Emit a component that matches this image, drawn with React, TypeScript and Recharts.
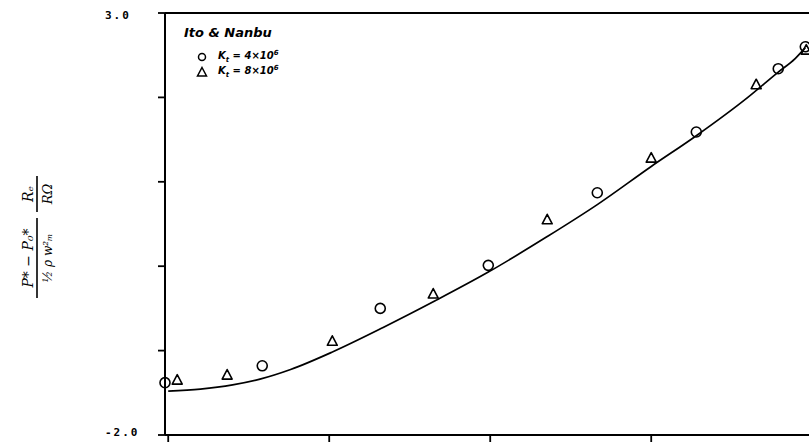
import React from 'react';
import { ComposedChart, Line, Scatter, XAxis, YAxis, ReferenceLine } from 'recharts';

// Solid curve (theory)
const curveX = [0, 0.2, 0.4, 0.57, 0.76, 1.02, 1.335, 1.658, 1.988, 2.354, 2.665, 3.0, 3.28, 3.6, 3.789, 3.894, 3.957];
const curveY = [-1.48, -1.456, -1.406, -1.338, -1.224, -1.016, -0.726, -0.41, -0.07, 0.351, 0.73, 1.182, 1.546, 2.0, 2.3, 2.46, 2.59];

// Ito & Nanbu, K = 4x10^6 (circles)
const circleX = [-0.02, 0.584, 1.317, 1.988, 2.665, 3.28, 3.789, 3.957];
const circleY = [-1.38, -1.18, -0.5, 0.01, 0.87, 1.59, 2.34, 2.6];

// Ito & Nanbu, K = 8x10^6 (triangles)
const triangleX = [0.056, 0.366, 1.019, 1.646, 2.354, 3.0, 3.652, 3.963];
const triangleY = [-1.35, -1.29, -0.89, -0.33, 0.55, 1.28, 2.15, 2.56];

const xTicks = [0, 1, 2, 3];
const yTicks = [-2, -1, 0, 1, 2, 3];
const yTickLabels = ['-2.0', '', '', '', '', '3.0'];

const curveData = curveX.map((x, i) => ({ x, y: curveY[i] }));
const circleData = circleX.map((x, i) => ({ x, y: circleY[i] }));
const triangleData = triangleX.map((x, i) => ({ x, y: triangleY[i] }));

const CircleShape = (props: any) => {
  const { cx, cy } = props;
  return <circle cx={cx} cy={cy} r={5} fill="none" stroke="#000" strokeWidth={1.6} />;
};

const TriangleShape = (props: any) => {
  const { cx, cy } = props;
  const d = `M${cx},${cy - 5.5} L${cx + 5},${cy + 4} L${cx - 5},${cy + 4} Z`;
  return <path d={d} fill="none" stroke="#000" strokeWidth={1.6} strokeLinejoin="round" />;
};

const YTick = (props: any) => {
  const { x, y, payload } = props;
  const idx = yTicks.indexOf(payload.value);
  const label = idx >= 0 ? yTickLabels[idx] : '';
  if (!label) return null;
  return (
    <text
      x={x - 51}
      y={y}
      dy={payload.value === 3 ? 5.5 : 1}
      textAnchor="start"
      fontFamily="DejaVu Sans Mono"
      fontWeight="bold"
      fontSize={11}
      letterSpacing={2}
      fill="#000"
    >
      {label}
    </text>
  );
};

const LegendBox = () => (
  <div
    style={{
      position: 'absolute',
      left: 180,
      top: 18,
      width: 130,
      height: 62,
      fontFamily: 'DejaVu Sans',
      fontStyle: 'italic',
      fontWeight: 'bold',
      color: '#000',
      pointerEvents: 'none',
    }}
  >
    <div style={{ position: 'absolute', left: 4, top: 7, fontSize: 13, lineHeight: '15px', whiteSpace: 'nowrap' }}>
      Ito &amp; Nanbu
    </div>
    <div style={{ position: 'absolute', left: 16, top: 32, height: 14, display: 'flex', alignItems: 'center', fontSize: 10, whiteSpace: 'nowrap' }}>
      <svg width={12} height={12} style={{ marginRight: 10 }}>
        <circle cx={6} cy={6} r={3.5} fill="none" stroke="#000" strokeWidth={1.5} />
      </svg>
      <span>
        K<sub style={{ fontSize: 7 }}>t</sub> = 4×10<sup style={{ fontSize: 7 }}>6</sup>
      </span>
    </div>
    <div style={{ position: 'absolute', left: 16, top: 47, height: 14, display: 'flex', alignItems: 'center', fontSize: 10, whiteSpace: 'nowrap' }}>
      <svg width={12} height={12} style={{ marginRight: 10 }}>
        <path d="M6,1.5 L10.5,10 L1.5,10 Z" fill="none" stroke="#000" strokeWidth={1.5} />
      </svg>
      <span>
        K<sub style={{ fontSize: 7 }}>t</sub> = 8×10<sup style={{ fontSize: 7 }}>6</sup>
      </span>
    </div>
  </div>
);

const YLabel = () => (
  <svg width={100} height={444} style={{ position: 'absolute', left: 0, top: 0, pointerEvents: 'none' }}>
    <g transform="translate(37,298) rotate(-90)" fontFamily="DejaVu Serif" fontStyle="italic" fill="#000">
      <line x1={0} y1={0} x2={80} y2={0} stroke="#000" strokeWidth={1.6} />
      <text x={40} y={-4} textAnchor="middle" fontSize={14}>
        P* − P₀*
      </text>
      <text x={40} y={15} textAnchor="middle" fontSize={12}>
        ½ ρ w²ₘ
      </text>
      <line x1={86} y1={0} x2={122} y2={0} stroke="#000" strokeWidth={1.6} />
      <text x={104} y={-4} textAnchor="middle" fontSize={14}>
        Rₑ
      </text>
      <text x={104} y={15} textAnchor="middle" fontSize={13}>
        RΩ
      </text>
    </g>
  </svg>
);

export default function App() {
  return (
    <div style={{ position: 'absolute', left: 0, top: 0, width: 809, height: 444, background: '#fff', overflow: 'hidden' }}>
      <ComposedChart width={809} height={444} margin={{ top: 13, right: 0, bottom: 0, left: 0 }}>
        <XAxis
          type="number"
          dataKey="x"
          domain={[-0.02, 3.98]}
          ticks={xTicks}
          height={9}
          tickSize={7}
          tickFormatter={() => ''}
          axisLine={{ stroke: '#000', strokeWidth: 2 }}
          tickLine={{ stroke: '#000', strokeWidth: 1.8 }}
        />
        <YAxis
          type="number"
          dataKey="y"
          domain={[-2, 3]}
          ticks={yTicks}
          width={165}
          tickSize={7}
          tickMargin={2}
          tick={<YTick />}
          axisLine={{ stroke: '#000', strokeWidth: 2 }}
          tickLine={{ stroke: '#000', strokeWidth: 1.8 }}
        />
        <ReferenceLine y={3} stroke="#000" strokeWidth={2} />
        <Line
          data={curveData}
          dataKey="y"
          type="monotone"
          stroke="#000"
          strokeWidth={1.7}
          dot={false}
          isAnimationActive={false}
        />
        <Scatter data={circleData} dataKey="y" shape={<CircleShape />} isAnimationActive={false} />
        <Scatter data={triangleData} dataKey="y" shape={<TriangleShape />} isAnimationActive={false} />
      </ComposedChart>
      <LegendBox />
      <YLabel />
    </div>
  );
}
